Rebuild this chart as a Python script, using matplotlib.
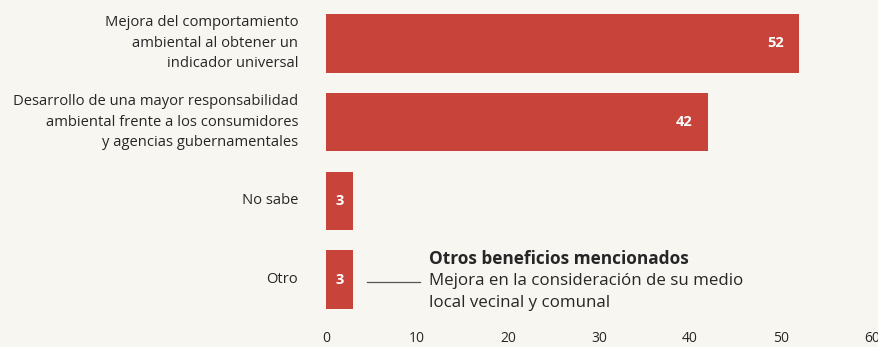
import matplotlib.pyplot as plt
import numpy as np

plt.rcParams["font.family"] = ["Open Sans", "DejaVu Sans"]

categories = [
    "Mejora del comportamiento\nambiental al obtener un\nindicador universal",
    "Desarrollo de una mayor responsabilidad\nambiental frente a los consumidores\ny agencias gubernamentales",
    "No sabe",
    "Otro",
]
values = [52, 42, 3, 3]
xticks = [0, 10, 20, 30, 40, 50, 60]

BAR = "#c8443b"
PAPER = "#f8f6f1"
TEXT = "#262626"

fig = plt.figure(figsize=(8.79, 3.47), dpi=100, facecolor=PAPER)
# axes: x=0 at 326 px, 60 at 872 px; rows span y 4..319 px
ax = fig.add_axes([326 / 879, (347 - 319) / 347, (872 - 326) / 879, 315 / 347])
ax.set_facecolor(PAPER)

y = np.arange(len(values))
ax.barh(y, values, height=0.74, color=BAR, edgecolor="none")
ax.set_ylim(len(values) - 0.5, -0.5)
ax.set_xlim(0, 60)

for yi, v in zip(y, values):
    xpos = v - 2.6 if v > 10 else v / 2
    ax.text(xpos, yi, str(v), ha="center", va="center",
            color="white", fontsize=10.5, fontweight="bold")

ax.set_yticks(y)
ax.set_yticklabels(categories, fontsize=10.6, color=TEXT, linespacing=1.5,
                   ha="right")
for lab in ax.get_yticklabels():
    lab.set_va("center")
ax.tick_params(axis="y", length=0, pad=20)
ax.set_xticks(xticks)
ax.set_xticklabels([str(t) for t in xticks], fontsize=10, color=TEXT)
ax.tick_params(axis="x", length=0, pad=9)
for s in ax.spines.values():
    s.set_visible(False)

# nota sobre "Otro"
ax.plot([4.5, 10.3], [3.03, 3.03], color="#555555", lw=0.9)
ax.text(11.3, 2.74, "Otros beneficios mencionados", fontsize=12.4,
        fontweight="bold", color=TEXT, va="center", ha="left")
ax.text(11.3, 2.92, "Mejora en la consideración de su medio\nlocal vecinal y comunal",
        fontsize=12.2, color=TEXT, va="top", ha="left", linespacing=1.45)

fig.savefig("out.png", dpi=100, facecolor=PAPER)
